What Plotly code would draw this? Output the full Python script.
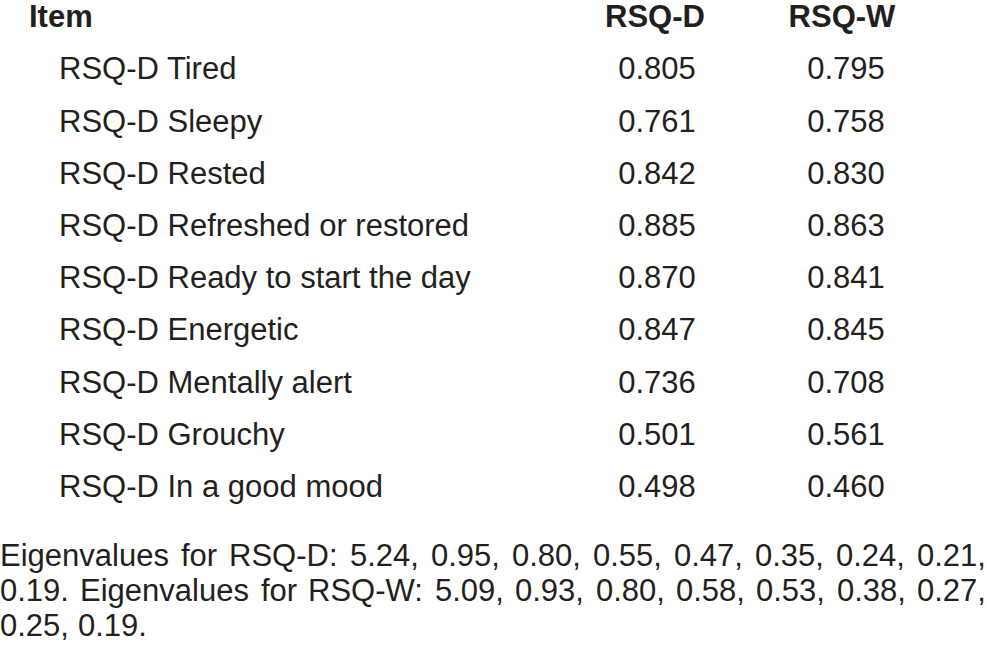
import plotly.graph_objects as go

# ---- data ----
items = [
    "RSQ-D Tired",
    "RSQ-D Sleepy",
    "RSQ-D Rested",
    "RSQ-D Refreshed or restored",
    "RSQ-D Ready to start the day",
    "RSQ-D Energetic",
    "RSQ-D Mentally alert",
    "RSQ-D Grouchy",
    "RSQ-D In a good mood",
]
rsq_d = [0.805, 0.761, 0.842, 0.885, 0.870, 0.847, 0.736, 0.501, 0.498]
rsq_w = [0.795, 0.758, 0.830, 0.863, 0.841, 0.845, 0.708, 0.561, 0.460]
headers = ["Item", "RSQ-D", "RSQ-W"]
footer_lines = [
    "Eigenvalues for RSQ-D: 5.24, 0.95, 0.80, 0.55, 0.47, 0.35, 0.24, 0.21,",
    "0.19. Eigenvalues for RSQ-W: 5.09, 0.93, 0.80, 0.58, 0.53, 0.38, 0.27,",
    "0.25, 0.19.",
]

# ---- styling ----
W, H = 987, 660
FONT = "Liberation Sans, Arial, sans-serif"
FS = 31
COLOR = "#231f20"
ROW0_PX = 19.5    # pixel centre of header row
ROW_STEP = 52.2   # pixel spacing between rows

rows = list(range(1, len(items) + 1))
tf = dict(family=FONT, size=FS, color=COLOR)

fig = go.Figure()
# header
fig.add_trace(go.Scatter(
    x=[29], y=[0], mode="text", text=["<b>" + headers[0] + "</b>"],
    textposition="middle right", textfont=tf, hoverinfo="skip", showlegend=False))
fig.add_trace(go.Scatter(
    x=[655, 842], y=[0, 0], mode="text",
    text=["<b>" + h + "</b>" for h in headers[1:]],
    textposition="middle center", textfont=tf, hoverinfo="skip", showlegend=False))
# items
fig.add_trace(go.Scatter(
    x=[59] * len(items), y=rows, mode="text", text=items,
    textposition="middle right", textfont=tf, hoverinfo="skip", showlegend=False))
# values
fig.add_trace(go.Scatter(
    x=[657] * len(rsq_d), y=rows, mode="text", text=[f"{v:.3f}" for v in rsq_d],
    textposition="middle center", textfont=tf, hoverinfo="skip", showlegend=False))
fig.add_trace(go.Scatter(
    x=[846] * len(rsq_w), y=rows, mode="text", text=[f"{v:.3f}" for v in rsq_w],
    textposition="middle center", textfont=tf, hoverinfo="skip", showlegend=False))

# ---- footer, justified word by word (Arial / Liberation Sans metrics) ----
AW = {' ': 278, ',': 278, '.': 278, ':': 278, '-': 333, 'E': 667, 'R': 722, 'S': 667,
      'Q': 778, 'D': 722, 'W': 944, 'i': 222, 'g': 556, 'e': 556, 'n': 556, 'v': 500,
      'a': 556, 'l': 222, 'u': 556, 's': 500, 'f': 278, 'o': 556, 'r': 333}
def tw(s):
    return sum(AW.get(c, 556) for c in s) / 1000 * FS

footer_y = [555, 590, 625]
LEFT, RIGHT = -1, 985
for li, line in enumerate(footer_lines):
    yp = 1 - footer_y[li] / H
    words = line.split(" ")
    justify = li < len(footer_lines) - 1
    if justify:
        total = sum(tw(w) for w in words)
        gap = (RIGHT - LEFT - total) / (len(words) - 1)
    else:
        gap = tw(" ")
    x = LEFT
    for wi, w in enumerate(words):
        last = justify and wi == len(words) - 1
        fig.add_annotation(
            x=(RIGHT - tw(w)) / W if last else x / W, y=yp, xref="paper", yref="paper",
            text=w, showarrow=False, xanchor="left", yanchor="middle",
            font=tf, borderpad=0)
        x += tw(w) + gap

fig.update_layout(
    width=W, height=H, margin=dict(l=0, r=0, t=0, b=0),
    paper_bgcolor="white", plot_bgcolor="white",
    xaxis=dict(range=[0, W], visible=False, fixedrange=True),
    yaxis=dict(range=[(H - ROW0_PX) / ROW_STEP, -ROW0_PX / ROW_STEP], visible=False, fixedrange=True),
    showlegend=False, hovermode=False,
)
fig.write_html("out.html", config={"displayModeBar": False, "staticPlot": True},
               post_script="document.body.style.margin='0px';")
